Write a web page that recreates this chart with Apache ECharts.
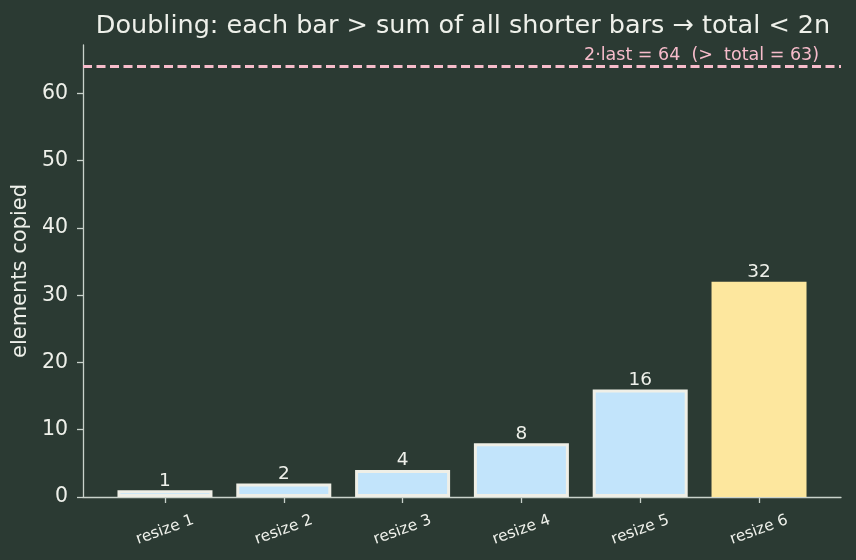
<!DOCTYPE html>
<html>
<head>
<meta charset="utf-8">
<script src="https://cdn.jsdelivr.net/npm/echarts@6/dist/echarts.min.js"></script>
<style>html,body{margin:0;padding:0;background:#2b3a33;}#c{width:856px;height:560px;}</style>
</head>
<body>
<div id="c"></div>
<script>
const categories = ['resize 1','resize 2','resize 3','resize 4','resize 5','resize 6'];
const copied = [1, 2, 4, 8, 16, 32];
const yTicks = [0, 10, 20, 30, 40, 50, 60];
const refValue = 64;
const refLabel = '2·last = 64  (>  total = 63)';
const titleText = 'Doubling: each bar > sum of all shorter bars → total < 2n';

const blue = '#c2e4fb', yellow = '#fde79e', edge = '#efefe7', txt = '#eef0ea', axisCol = '#c9d2cb', pink = '#f7bccb';
const chart = echarts.init(document.getElementById('c'));
const idx = categories.map((_, i) => i);
chart.setOption({
  backgroundColor: '#2b3a33',
  animation: false,
  textStyle: { fontFamily: 'DejaVu Sans' },
  title: { text: titleText, left: 458, textAlign: 'center', top: 8,
    textStyle: { color: txt, fontSize: 25.5, fontWeight: 'normal', fontFamily: 'DejaVu Sans' } },
  grid: { left: 83, right: 15, top: 45, bottom: 63 },
  xAxis: {
    type: 'value', min: -0.69, max: 5.69,
    splitLine: { show: false },
    axisLine: { show: true, onZero: false, lineStyle: { color: axisCol, width: 1.3 } },
    axisTick: { show: true, customValues: idx, length: 6, lineStyle: { color: axisCol, width: 1.3 } },
    axisLabel: { customValues: idx, formatter: v => categories[Math.round(v)], rotate: 20,
      align: 'center', verticalAlign: 'middle', margin: 33, color: txt, fontSize: 15.5, fontFamily: 'DejaVu Sans' }
  },
  yAxis: {
    type: 'value', min: 0, max: 67.2,
    name: 'elements copied', nameLocation: 'middle', nameGap: 48, nameRotate: 90,
    nameTextStyle: { color: txt, fontSize: 21, fontFamily: 'DejaVu Sans' },
    splitLine: { show: false },
    axisLine: { show: true, onZero: false, lineStyle: { color: axisCol, width: 1.3 } },
    axisTick: { show: true, customValues: yTicks, length: 6, lineStyle: { color: axisCol, width: 1.3 } },
    axisLabel: { customValues: yTicks, color: txt, fontSize: 20.5, margin: 15, fontFamily: 'DejaVu Sans' }
  },
  series: [{
    type: 'bar',
    barWidth: 95,
    data: copied.map((v, i) => ({
      value: [i, v],
      itemStyle: i === copied.length - 1
        ? { color: yellow, borderWidth: 0 }
        : { color: blue, borderColor: edge, borderWidth: 3 }
    })),
    label: { show: true, position: 'top', distance: 0, color: txt, fontSize: 18.5,
      fontFamily: 'DejaVu Sans', formatter: p => p.value[1] },
    markLine: {
      silent: true, symbol: ['none', 'none'],
      lineStyle: { color: pink, type: [9, 4.5], width: 3 },
      label: { show: true, position: 'insideEndTop', formatter: refLabel, color: pink,
        fontSize: 17.5, fontFamily: 'DejaVu Sans', distance: [22, 2] },
      data: [{ yAxis: refValue }]
    }
  }]
});
</script>
</body>
</html>
